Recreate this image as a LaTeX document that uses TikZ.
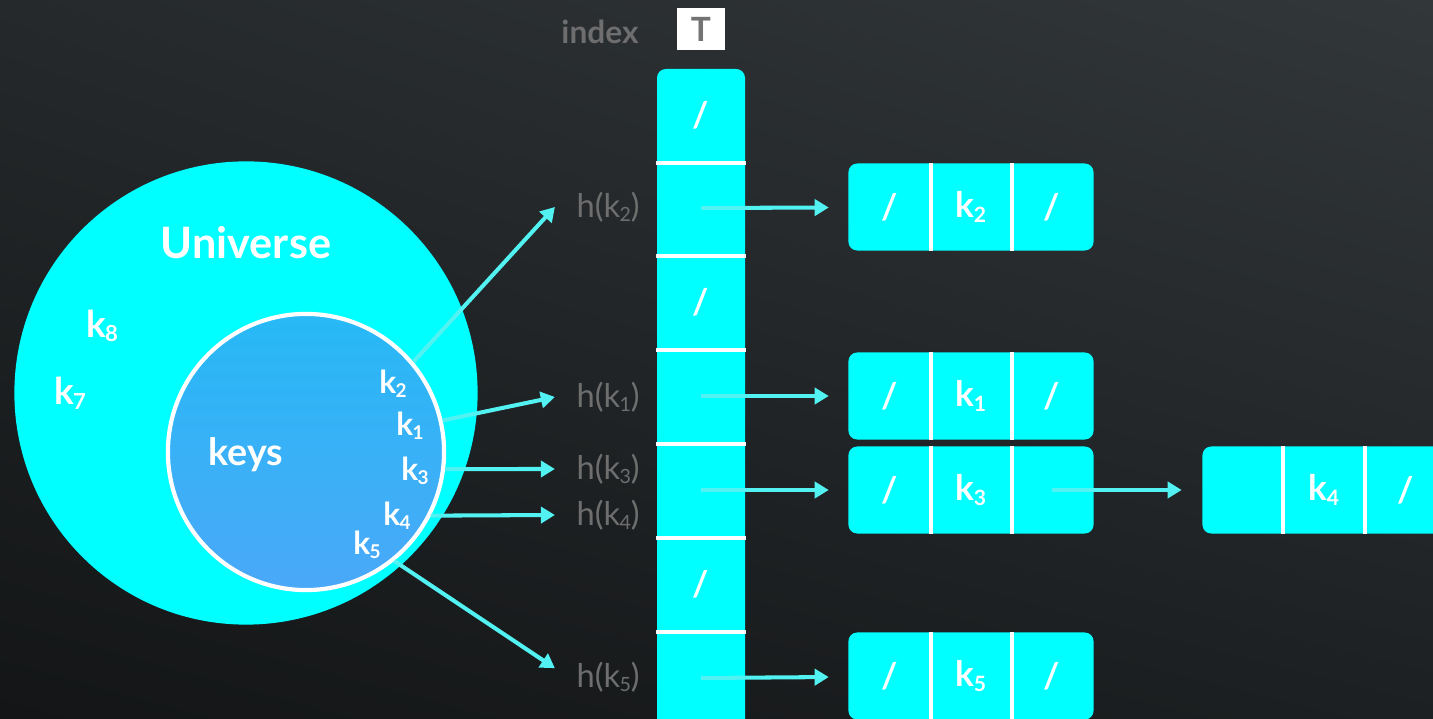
\documentclass[tikz,border=0pt]{standalone}
\usepackage{fontspec}
\setmainfont{Lato}
\usetikzlibrary{arrows.meta,shadings}

\definecolor{bgul}{HTML}{25292B}
\definecolor{bgur}{HTML}{32373A}
\definecolor{bgll}{HTML}{131516}
\definecolor{bglr}{HTML}{1D2022}
\definecolor{cyanfill}{HTML}{00FFFF}
\definecolor{keytop}{HTML}{27B9F6}
\definecolor{keybot}{HTML}{4AA8F8}
\definecolor{linkc}{HTML}{52F2F2}
\definecolor{hashgray}{HTML}{6E6E6E}
\definecolor{tgray}{HTML}{737373}

\newcommand{\ksub}[1]{k\kern-0.2pt\raisebox{-0.25ex}{\scalebox{0.6}{#1}}}
\newcommand{\nilptr}{/}

\begin{document}
\begin{tikzpicture}[x=0.01cm,y=-0.01cm,
  link/.style={-{Triangle[length=4pt,width=4.6pt]},draw=linkc,line width=1.15pt},
  sep/.style={white,line width=1.1pt},
  lbl/.style={text=white,font=\bfseries\fontsize{9}{9}\selectfont,inner sep=0pt},
  biglbl/.style={lbl,font=\bfseries\fontsize{10.5}{10.5}\selectfont},
  hashlbl/.style={text=hashgray,font=\fontsize{9.3}{9.3}\selectfont,inner sep=0pt,anchor=west},
  cell/.style={minimum width=0.88cm,minimum height=0.94cm,inner sep=0pt,text=white,font=\bfseries\fontsize{10}{10}\selectfont},
  listbox/.style={fill=cyanfill,rounded corners=2.5pt,minimum width=2.45cm,minimum height=0.87cm,inner sep=0pt},
  field/.style={text=white,font=\bfseries\fontsize{10}{10}\selectfont,inner sep=0pt}]

  % background
  \shade[upper left=bgul,upper right=bgur,lower left=bgll,lower right=bglr] (0,0) rectangle (1433,719);
  \useasboundingbox (0,0) rectangle (1433,719);

  % universe and keys
  \node[circle,fill=cyanfill,minimum size=4.63cm,inner sep=0pt] (univ) at (246,393) {};
  \node[lbl,font=\bfseries\fontsize{12.3}{12.3}\selectfont] (univname) at (246,243) {Universe};
  \node[biglbl] (k8) at (102,326) {\ksub{8}};
  \node[biglbl] (k7) at (70,393) {\ksub{7}};
  \node[circle,draw=white,line width=1.2pt,top color=keytop,bottom color=keybot,minimum size=2.76cm,inner sep=0pt] (keys) at (306,452) {};
  \node[lbl,font=\bfseries\fontsize{10.7}{10.7}\selectfont] (keyname) at (246,455) {keys};
  \node[lbl] (k2) at (393,384) {\ksub{2}};
  \node[lbl] (k1) at (410,426) {\ksub{1}};
  \node[lbl] (k3) at (415,471) {\ksub{3}};
  \node[lbl] (k4) at (397,516) {\ksub{4}};
  \node[lbl] (k5) at (367,545) {\ksub{5}};

  % table T
  \node[text=hashgray,font=\bfseries\fontsize{9}{9}\selectfont,inner sep=0pt] (idx) at (600,32) {index};
  \node[fill=white,minimum width=0.47cm,minimum height=0.41cm,inner sep=0pt,text=tgray,font=\bfseries\fontsize{9.5}{9.5}\selectfont] (tname) at (701,29) {T};
  \fill[cyanfill,rounded corners=2.5pt] (657,69) rectangle (745,740);
  \node[cell] (t0) at (701,115) {/};
  \node[cell] (t1) at (701,208) {};
  \node[cell] (t2) at (701,302) {/};
  \node[cell] (t3) at (701,396) {};
  \node[cell] (t4) at (701,490) {};
  \node[cell] (t5) at (701,584) {/};
  \node[cell] (t6) at (701,678) {};
  \foreach \i in {0,...,5}
    \draw[sep] (t\i.south west) -- (t\i.south east);

  % hash values
  \node[hashlbl] (h2) at (576,207) {h(\ksub{2})};
  \node[hashlbl] (h1) at (576,397) {h(\ksub{1})};
  \node[hashlbl] (h3) at (576,469) {h(\ksub{3})};
  \node[hashlbl] (h4) at (576,515) {h(\ksub{4})};
  \node[hashlbl] (h5) at (576,677) {h(\ksub{5})};

  \draw[link] (keys.40.9) -- ([xshift=-6pt]h2.west);
  \draw[link] (keys.13.4) -- ([xshift=-6pt]h1.west);
  \draw[link] (keys.-7.7) -- ([xshift=-6pt]h3.west);
  \draw[link] (keys.-27.5) -- ([xshift=-6pt]h4.west);
  \draw[link] (keys.-51.7) -- ([xshift=-6pt,yshift=2.5pt]h5.west);

  % chains
  \foreach \k/\yy/\c in {2/207/\nilptr,1/396/\nilptr,3/490/{},5/676/\nilptr}{
    \node[listbox] (l\k) at (971,\yy) {};
    \draw[sep] ([xshift=-0.4cm]l\k.north) -- ([xshift=-0.4cm]l\k.south);
    \draw[sep] ([xshift=0.41cm]l\k.north) -- ([xshift=0.41cm]l\k.south);
    \node[field] (l\k a) at ([xshift=-0.81cm]l\k.center) {/};
    \node[field] (l\k b) at (l\k.center) {\ksub{\k}};
    \node[field] (l\k c) at ([xshift=0.81cm]l\k.center) {\c};
  }
  \node[listbox] (l4) at (1325,490) {};
  \draw[sep] ([xshift=-0.42cm]l4.north) -- ([xshift=-0.42cm]l4.south);
  \draw[sep] ([xshift=0.4cm]l4.north) -- ([xshift=0.4cm]l4.south);
  \node[field] (l4a) at ([xshift=-0.82cm]l4.center) {};
  \node[field] (l4b) at ([xshift=-0.01cm]l4.center) {\ksub{4}};
  \node[field] (l4c) at ([xshift=0.81cm]l4.center) {/};

  \draw[link,shorten >=5.4pt] (t1.center) -- (l2);
  \draw[link,shorten >=5.4pt] (t3.center) -- (l1);
  \draw[link,shorten >=5.4pt] (t4.center) -- (l3);
  \draw[link,shorten >=5.4pt] (t6.center) -- (l5);
  \draw[link,shorten >=5.7pt] (l3c.center) -- (l4);
\end{tikzpicture}
\end{document}
